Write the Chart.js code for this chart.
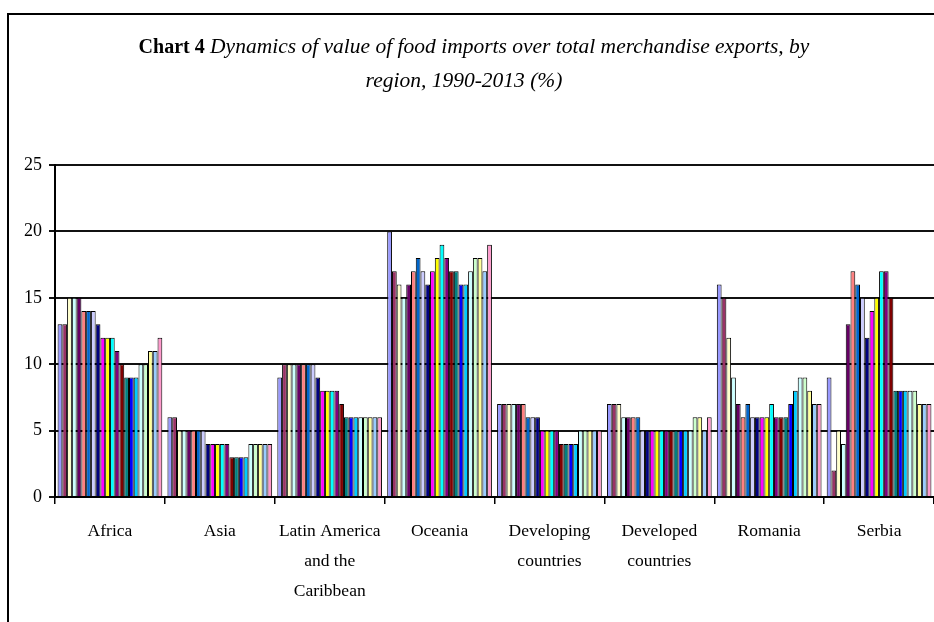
<!DOCTYPE html>
<html>
<head>
<meta charset="utf-8">
<title>Chart 4 - Food imports over merchandise exports</title>
<script src="https://cdn.jsdelivr.net/npm/chart.js@4/dist/chart.umd.min.js"></script>
<style>
  html, body { margin: 0; padding: 0; background: #fff; overflow: hidden; }
  #wrap { position: relative; width: 934px; height: 622px; overflow: hidden; }
  #frame {
    position: absolute; left: 7px; top: 13px; width: 1000px; height: 700px;
    border-left: 2px solid #000; border-top: 2px solid #000; pointer-events: none;
  }
  .title {
    position: absolute; width: 900px; text-align: center;
    font-family: 'Liberation Serif', 'Times New Roman', serif;
    font-size: 21.5px; line-height: 34px; color: #000; white-space: nowrap;
  }
  .title b { font-weight: bold; font-style: normal; font-size: 20px; }
  .title i { font-style: italic; }
  #chart { position: absolute; left: 0; top: 0; }
</style>
</head>
<body>
<div id="wrap">
  <canvas id="chart" width="934" height="622"></canvas>
  <div id="frame"></div>
  <div class="title" style="left:24px; top:29px;"><b>Chart 4</b> <i>Dynamics of value of food imports over total merchandise exports, by</i></div>
  <div class="title" style="left:14px; top:63px;"><i>region, 1990-2013 (%)</i></div>
</div>
<script>
// ---------------------------------------------------------------------------
// Data (% per year, one array per region)
// ---------------------------------------------------------------------------
const regions = [
  'Africa',
  'Asia',
  ['Latin America', 'and the', 'Caribbean'],
  'Oceania',
  ['Developing', 'countries'],
  ['Developed', 'countries'],
  'Romania',
  'Serbia'
];

const years = ['1992', '1993', '1994', '1995', '1996', '1997', '1998', '1999', '2000', '2001', '2002',
               '2003', '2004', '2005', '2006', '2007', '2008', '2009', '2010', '2011', '2012', '2013'];

const africa     = [13, 13, 15, 15, 15, 14, 14, 14, 13, 12, 12, 12, 11, 10, 9, 9, 9, 10, 10, 11, 11, 12];
const asia       = [6, 6, 5, 5, 5, 5, 5, 5, 4, 4, 4, 4, 4, 3, 3, 3, 3, 4, 4, 4, 4, 4];
const latinAm    = [9, 10, 10, 10, 10, 10, 10, 10, 9, 8, 8, 8, 8, 7, 6, 6, 6, 6, 6, 6, 6, 6];
const oceania    = [20, 17, 16, 15, 16, 17, 18, 17, 16, 17, 18, 19, 18, 17, 17, 16, 16, 17, 18, 18, 17, 19];
const developing = [7, 7, 7, 7, 7, 7, 6, 6, 6, 5, 5, 5, 5, 4, 4, 4, 4, 5, 5, 5, 5, 5];
const developed  = [7, 7, 7, 6, 6, 6, 6, 5, 5, 5, 5, 5, 5, 5, 5, 5, 5, 5, 6, 6, 5, 6];
const romania    = [16, 15, 12, 9, 7, 6, 7, 6, 6, 6, 6, 7, 6, 6, 6, 7, 8, 9, 9, 8, 7, 7];
const serbia     = [9, 2, 5, 4, 13, 17, 16, 15, 12, 14, 15, 17, 17, 15, 8, 8, 8, 8, 8, 7, 7, 7];

const yTicks = { min: 0, max: 25, step: 5 };

// Excel-style default series palette
const seriesColors = ['#9999FF', '#993366', '#FFFFCC', '#CCFFFF', '#660066', '#FF8080', '#0066CC', '#CCCCFF',
                      '#000080', '#FF00FF', '#FFFF00', '#00FFFF', '#800080', '#800000', '#008080', '#0000FF',
                      '#00CCFF', '#CCFFFF', '#CCFFCC', '#FFFF99', '#99CCFF', '#FF99CC'];

// ---------------------------------------------------------------------------
// Chart
// ---------------------------------------------------------------------------
const byRegion = [africa, asia, latinAm, oceania, developing, developed, romania, serbia];

const datasets = years.map((year, i) => ({
  label: year,
  data: byRegion.map(arr => arr[i]),
  backgroundColor: seriesColors[i],
  borderColor: '#000',
  borderWidth: 1,
  barPercentage: 1,
  categoryPercentage: 0.953
}));

const serif = 'Liberation Serif, Times New Roman, serif';

new Chart(document.getElementById('chart').getContext('2d'), {
  type: 'bar',
  data: { labels: regions, datasets: datasets },
  options: {
    responsive: false,
    animation: false,
    layout: { padding: { top: 165, left: 0, right: 0, bottom: 0 } },
    plugins: {
      legend: { display: false },
      title: { display: false },
      tooltip: { enabled: false }
    },
    scales: {
      x: {
        afterFit: scale => { scale.height = 125; },
        grid: {
          offset: true,
          drawOnChartArea: false,
          drawTicks: true,
          tickLength: 7,
          color: '#000',
          lineWidth: 1.5
        },
        border: { display: true, color: '#000', width: 2 },
        ticks: {
          color: '#000',
          font: { family: serif, size: 17.5, lineHeight: '30px' },
          padding: 12,
          maxRotation: 0,
          autoSkip: false
        }
      },
      y: {
        min: yTicks.min,
        max: yTicks.max,
        afterFit: scale => { scale.width = 55; },
        grid: {
          color: '#111',
          lineWidth: 2,
          drawTicks: true,
          tickLength: 6
        },
        border: { display: true, color: '#000', width: 2 },
        ticks: {
          stepSize: yTicks.step,
          color: '#000',
          padding: 7,
          font: { family: serif, size: 18 }
        }
      }
    }
  }
});
</script>
</body>
</html>
